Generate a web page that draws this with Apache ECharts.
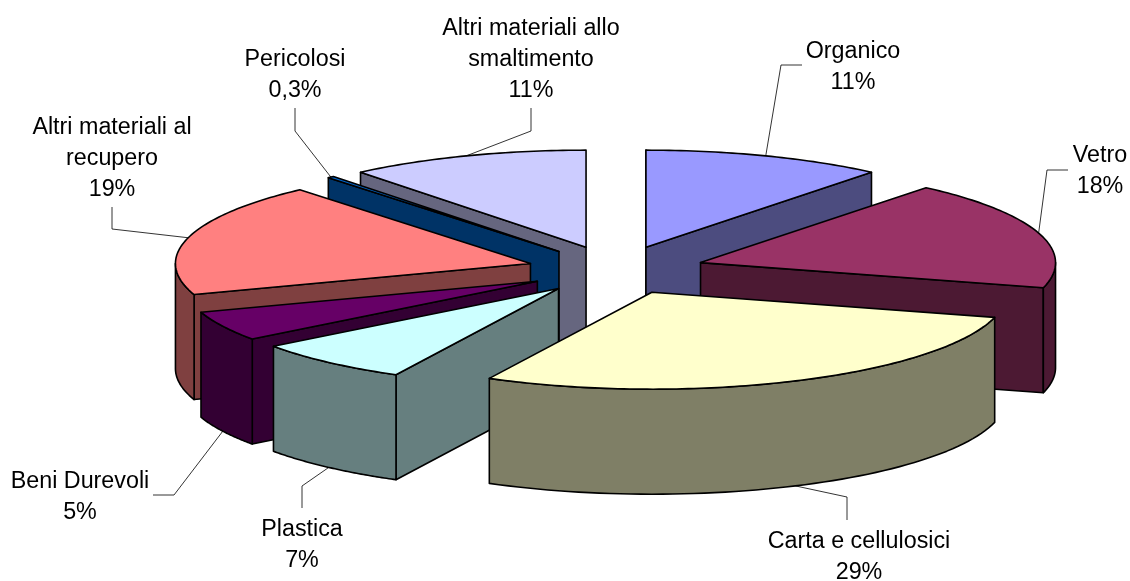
<!DOCTYPE html>
<html><head><meta charset="utf-8">
<style>html,body{margin:0;padding:0;background:#fff}#c{width:1130px;height:581px}</style>
<script src="https://cdn.jsdelivr.net/npm/echarts@6/dist/echarts.min.js"></script>
</head><body><div id="c"></div>
<script>
// ---- data ----
const categories = ['Organico','Vetro','Carta e cellulosici','Plastica','Beni Durevoli','Altri materiali al recupero','Pericolosi','Altri materiali allo smaltimento'];
const values = [11,18.3,28.5,7.3,5,19,0.3,11];
const percentLabels = ['11%','18%','29%','7%','5%','19%','0,3%','11%'];
const labelLines = [['Organico'],['Vetro'],['Carta e cellulosici'],['Plastica'],['Beni Durevoli'],['Altri materiali al','recupero'],['Pericolosi'],['Altri materiali allo','smaltimento']];
// ---- styles / layout ----
const topColors  = ['#9999FF','#993366','#FFFFCC','#CCFFFF','#660066','#FF8080','#0066CC','#CCCCFF'];
const wallColors = ['#4C4C7F','#4C1933','#7F7F66','#667F7F','#330033','#7F4040','#003366','#66667F'];
const labelCentre = [[853,52],[1100,156],[859,542],[302,530],[80,482],[112,128],[295,60],[531,29]];
const leaderTail  = [[[802,65],[781,65]],[[1068,170],[1047,170]],[[847,520],[847,497]],[[302,508],[302,486]],[[153,495],[174,495]],[[112,207],[112,229]],[[295,108],[295,131]],[[531,108],[531,131]]];
const CX=616, CY=270, RX=355, RY=97, DEPTH=105, EXPLODE=0.25, LINE_H=30.6, FONT_SIZE=23.3;

const total = values.reduce((a,b)=>a+b,0);
const ang = []; let run=0;
values.forEach(v=>{ const s=run/total*2*Math.PI; run+=v; ang.push([s,run/total*2*Math.PI]); });
const depthRank = values.map((_,i)=>i).sort((a,b)=>{
  const m=k=>Math.cos((ang[k][0]+ang[k][1])/2); return m(b)-m(a);
});

function renderSlice(params, api){
  const i=params.dataIndex, s=ang[i][0], e=ang[i][1], mid=(s+e)/2;
  const ax=CX+EXPLODE*RX*Math.sin(mid), ay=CY-EXPLODE*RY*Math.cos(mid);
  const pt=(t,d)=>[ax+RX*Math.sin(t), ay-RY*Math.cos(t)+(d||0)];
  const rank=depthRank.indexOf(i)*10+10;
  const edge={stroke:'#000',lineWidth:1.6,lineJoin:'round'};
  const ch=[];
  const wall=(pts,off)=>ch.push({type:'polygon',z2:rank+off,shape:{points:pts},style:Object.assign({fill:wallColors[i]},edge)});
  if(Math.sin(s)<1e-9) wall([[ax,ay],pt(s),pt(s,DEPTH),[ax,ay+DEPTH]],0);
  if(Math.sin(e)>1e-9) wall([[ax,ay],pt(e),pt(e,DEPTH),[ax,ay+DEPTH]],0);
  const a0=Math.max(s,Math.PI/2), a1=Math.min(e,Math.PI*1.5);
  if(a1>a0){
    const up=[],dn=[],n=60;
    for(let k=0;k<=n;k++){const t=a0+(a1-a0)*k/n; up.push(pt(t)); dn.unshift(pt(t,DEPTH));}
    wall(up.concat(dn),1);
  }
  const top=[[ax,ay]], n=Math.max(4,Math.ceil((e-s)*60));
  for(let k=0;k<=n;k++) top.push(pt(s+(e-s)*k/n));
  ch.push({type:'polygon',z2:rank+2,shape:{points:top},style:Object.assign({fill:topColors[i]},edge)});
  // leader from the slice's outer mid point to its label
  const front=Math.cos(mid)<0 && Math.abs(Math.sin(mid))<0.92;
  const tip=pt(mid,front?DEPTH:0);
  ch.push({type:'polyline',z2:500,shape:{points:leaderTail[i].concat([tip])},style:{stroke:'#000',lineWidth:0.8,fill:null}});
  // label
  const lines=labelLines[i].concat([percentLabels[i]]);
  lines.forEach((t,k)=>ch.push({type:'text',z2:600,style:{text:t,x:labelCentre[i][0],y:labelCentre[i][1]+k*LINE_H,
    align:'center',verticalAlign:'middle',fill:'#000',fontFamily:'"Liberation Sans",Arial,sans-serif',fontSize:FONT_SIZE}}));
  return {type:'group',children:ch};
}
const chart=echarts.init(document.getElementById('c'),null,{renderer:'canvas'});
chart.setOption({
  backgroundColor:'#fff',animation:false,
  series:[{type:'custom',coordinateSystem:'none',silent:true,clip:false,
    data:categories.map((c,i)=>({name:c,value:values[i]})),renderItem:renderSlice}]
});
</script></body></html>
